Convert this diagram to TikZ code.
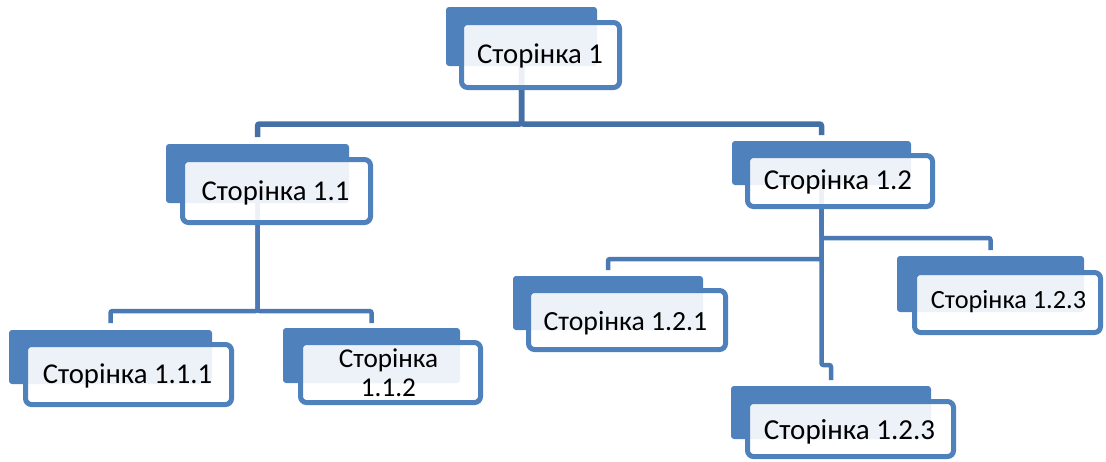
\documentclass[tikz,border=0pt]{standalone}
\usepackage{fontspec}
\setmainfont{Carlito}
\usetikzlibrary{calc}
\definecolor{boxblue}{HTML}{4F81BD}
\definecolor{linktop}{HTML}{4470A6}
\definecolor{linklow}{HTML}{4A79B3}
\tikzset{
  backbox/.style={fill=boxblue, draw=none, rounded corners=3pt, inner sep=0pt, outer sep=0pt},
  frontbox/.style={draw=boxblue, line width=5pt, fill=white, fill opacity=0.9, draw opacity=1, rounded corners=6pt, inner sep=0pt, outer sep=0pt},
  lbl/.style={inner sep=0pt, outer sep=0pt, anchor=base, text=black},
  linkA/.style={draw=linktop, line width=5.5pt, rounded corners=2pt},
  linkB/.style={draw=linklow, line width=4.5pt, rounded corners=2pt},
}
\begin{document}
\begin{tikzpicture}[x=1pt,y=-1pt]
\useasboundingbox (0,0) rectangle (1106,461);
% back boxes
\node[backbox, minimum width=151pt, minimum height=59pt] (b0) at (521.5,36.5) {};
\node[backbox, minimum width=183pt, minimum height=59pt] (b11) at (257.5,173.5) {};
\node[backbox, minimum width=179pt, minimum height=44pt] (b12) at (821.5,163) {};
\node[backbox, minimum width=203pt, minimum height=54pt] (b111) at (110.5,357) {};
\node[backbox, minimum width=177pt, minimum height=55pt] (b112) at (371.5,355.5) {};
\node[backbox, minimum width=190pt, minimum height=54pt] (b121) at (608,303) {};
\node[backbox, minimum width=187pt, minimum height=56pt] (b123r) at (990.5,284) {};
\node[backbox, minimum width=200pt, minimum height=53pt] (b123b) at (831,412.5) {};
% connectors
\draw[linkA] (b0.south) -- (b0.south |- 0,124) -| ($(b11.north)+(0,-7)$);
\draw[linkA] (b0.south) -- (b0.south |- 0,124) -| ($(b12.north)+(0,-6)$);
\draw[linkB] (b11.south) -- (b11.south |- 0,311) -| ($(b111.north)+(0,-7)$);
\draw[linkB] (b11.south) -- (b11.south |- 0,311) -| ($(b112.north)+(0,-5)$);
\draw[linkB] (b12.south) -- (b12.south |- 0,238) -| ($(b123r.north)+(0,-6)$);
\draw[linkB] (b12.south) -- (b12.south |- 0,259) -| ($(b121.north)+(0,-6)$);
\draw[linkB] (b12.south) -- (b12.south |- 0,365) -| ($(b123b.north)+(0,-6)$);
% front boxes
\node[frontbox, minimum width=158pt, minimum height=65pt] (f0) at (540.5,55) {};
\node[frontbox, minimum width=188pt, minimum height=63pt] (f11) at (276.5,191) {};
\node[frontbox, minimum width=185pt, minimum height=51pt] (f12) at (840,181) {};
\node[frontbox, minimum width=206pt, minimum height=60pt] (f111) at (128.5,374.5) {};
\node[frontbox, minimum width=180pt, minimum height=60pt] (f112) at (390.5,372.5) {};
\node[frontbox, minimum width=197pt, minimum height=59pt] (f121) at (627,320) {};
\node[frontbox, minimum width=186pt, minimum height=60pt] (f123r) at (1007.5,302.5) {};
\node[frontbox, minimum width=206pt, minimum height=55pt] (f123b) at (850.5,429) {};
% labels
\node[lbl, font=\fontsize{28.7}{34}\selectfont] (t0) at (540,63) {Сторінка 1};
\node[lbl, font=\fontsize{28.7}{34}\selectfont] (t11) at (275.5,200) {Сторінка 1.1};
\node[lbl, font=\fontsize{28.8}{34}\selectfont] (t12) at (838,189) {Сторінка 1.2};
\node[lbl, font=\fontsize{28.7}{34}\selectfont] (t111) at (127.5,383) {Сторінка 1.1.1};
\node[lbl, font=\fontsize{27.2}{29}\selectfont, align=center] (t112) at (388.5,396) {Сторінка\\1.1.2};
\node[lbl, font=\fontsize{27.7}{34}\selectfont] (t121) at (625.5,330) {Сторінка 1.2.1};
\node[lbl, font=\fontsize{26.3}{34}\selectfont] (t123r) at (1008.5,308) {Сторінка 1.2.3};
\node[lbl, font=\fontsize{29}{34}\selectfont] (t123b) at (849.5,439) {Сторінка 1.2.3};
\end{tikzpicture}
\end{document}
